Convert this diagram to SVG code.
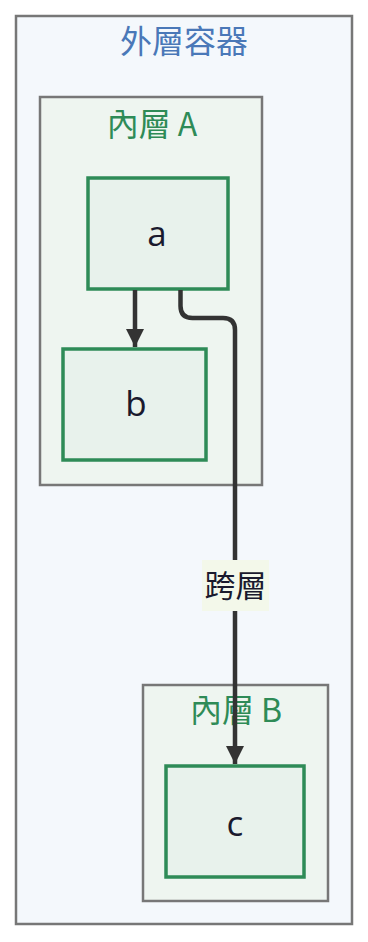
<svg xmlns="http://www.w3.org/2000/svg" width="368" height="942" viewBox="0 0 368 942">
<defs>
<style>
.outer{fill:#f4f8fc;stroke:#777;stroke-width:2.5}
.inner{fill:#eef5f0;stroke:#777;stroke-width:2.5}
.node{fill:#e8f2ec;stroke:#2e8b57;stroke-width:3.5}
.ntext{font-family:"Open Sans","Noto Sans",sans-serif;font-size:35px;fill:#1a1a2e;text-anchor:middle}
.ctitle{font-family:"Noto Sans CJK TC","Noto Sans",sans-serif;font-size:32px;text-anchor:middle}
.edge{fill:none;stroke:#333;stroke-width:4.5}
</style>
<marker id="arr" viewBox="0 0 10 10" refX="10" refY="5" markerWidth="4" markerHeight="4" markerUnits="strokeWidth" orient="auto">
<path d="M0,0 L10,5 L0,10 z" fill="#333"/>
</marker>
</defs>
<g id="outer">
<rect class="outer" x="16" y="16" width="336" height="908"/>
<text class="ctitle" x="184" y="53" fill="#4a78b8">外層容器</text>
</g>
<g id="innerA">
<rect class="inner" x="40" y="97" width="222" height="388"/>
<text class="ctitle" x="152" y="136" fill="#2e8b57">內層 A</text>
</g>
<g id="innerB">
<rect class="inner" x="143" y="685" width="185" height="216"/>
<text class="ctitle" x="236" y="722" fill="#2e8b57">內層 B</text>
</g>
<g id="node-a">
<rect class="node" x="88" y="178" width="140" height="111"/>
<text class="ntext" x="157" y="246">a</text>
</g>
<g id="node-b">
<rect class="node" x="63" y="349" width="143" height="111"/>
<text class="ntext" x="136" y="416">b</text>
</g>
<g id="node-c">
<rect class="node" x="166" y="766" width="138" height="111"/>
<text class="ntext" x="235" y="836">c</text>
</g>
<g id="connectors">
<path class="edge" d="M135,290 L135,347" marker-end="url(#arr)"/>
<path class="edge" d="M180.5,290 L180.5,306 Q180.5,318 192.5,318 L223,318 Q235,318 235,330 L235,764" marker-end="url(#arr)"/>
<rect x="202" y="560" width="67" height="51" fill="#f3f8ea"/>
<text class="ctitle" x="235.5" y="597" fill="#1a1a2e" style="font-size:31px">跨層</text>
</g>
</svg>
